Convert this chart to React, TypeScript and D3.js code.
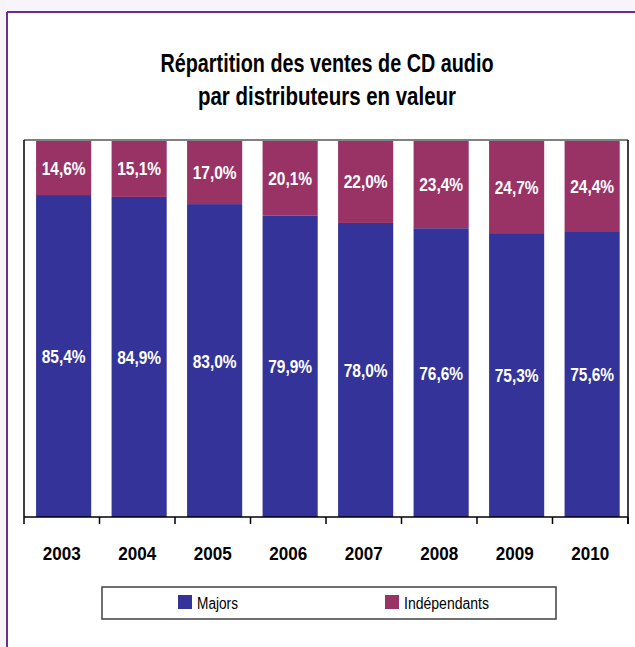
import React from "react";
import * as d3 from "d3";

const years = ["2003", "2004", "2005", "2006", "2007", "2008", "2009", "2010"];
const majors = [85.4, 84.9, 83.0, 79.9, 78.0, 76.6, 75.3, 75.6];
const independants = [14.6, 15.1, 17.0, 20.1, 22.0, 23.4, 24.7, 24.4];
const seriesNames = ["Majors", "Indépendants"];
const seriesColors = ["#333399", "#993366"];
const titleLines = ["Répartition des ventes de CD audio", "par distributeurs en valeur"];

const FONT = "'Liberation Sans', Arial, sans-serif";

export default function App() {
  const W = 635;
  const H = 647;
  const left = 24;
  const right = 628;
  const top = 140;
  const bottom = 517;

  const x = d3.scaleBand<string>().domain(years).range([left, right]);
  const y = d3.scaleLinear().domain([0, 100]).range([bottom, top]);
  const bw = x.bandwidth();
  const barOff = bw * 0.16;
  const barW = bw * 0.73;
  const fmt = (v: number) => v.toFixed(1).replace(".", ",") + "%";

  const ticks = [...years.map((d) => x(d) as number), right];
  const titleWidths = [333, 258];
  const legendWidths = [41, 85];

  return (
    <svg
      width={W}
      height={H}
      style={{ position: "absolute", left: 0, top: 0, background: "#fff" }}
    >
      <rect x={0} y={0} width={W} height={11} fill="#f8f4fb" />
      <rect x={0} y={0} width={6} height={H} fill="#f6f4f7" />
      <line x1={7} y1={12} x2={W} y2={12} stroke="#6b2d90" strokeWidth={2} />
      <line x1={7} y1={12} x2={7} y2={H} stroke="#6b2d90" strokeWidth={2} />

      {titleLines.map((t, i) => (
        <text
          key={i}
          x={327 - titleWidths[i] / 2}
          y={72 + i * 33}
          textLength={titleWidths[i]}
          lengthAdjust="spacingAndGlyphs"
          fontFamily={FONT}
          fontWeight="bold"
          fontSize={25}
          fill="#000"
        >
          {t}
        </text>
      ))}

      {years.map((yr, i) => {
        const bx = (x(yr) as number) + barOff;
        const yMaj = y(majors[i]);
        const yTop = y(majors[i] + independants[i]);
        const cx = bx + barW / 2;
        return (
          <g key={yr}>
            <rect x={bx} y={yMaj} width={barW} height={bottom - yMaj} fill={seriesColors[0]} />
            <rect x={bx} y={yTop} width={barW} height={yMaj - yTop} fill={seriesColors[1]} />
            <text
              x={cx - 22}
              y={(yMaj + bottom) / 2 + 7}
              textLength={44}
              lengthAdjust="spacingAndGlyphs"
              fontFamily={FONT}
              fontWeight="bold"
              fontSize={19}
              fill="#fff"
            >
              {fmt(majors[i])}
            </text>
            <text
              x={cx - 22}
              y={(yTop + yMaj) / 2 + 7}
              textLength={44}
              lengthAdjust="spacingAndGlyphs"
              fontFamily={FONT}
              fontWeight="bold"
              fontSize={19}
              fill="#fff"
            >
              {fmt(independants[i])}
            </text>
            <text
              x={(x(yr) as number) + bw / 2 - 19}
              y={560}
              textLength={38}
              lengthAdjust="spacingAndGlyphs"
              fontFamily={FONT}
              fontWeight="bold"
              fontSize={19}
              fill="#000"
            >
              {yr}
            </text>
          </g>
        );
      })}

      <line x1={left} y1={top} x2={right} y2={top} stroke="#808080" strokeWidth={2} />
      <line x1={left} y1={top} x2={left} y2={bottom} stroke="#000" strokeWidth={1.5} />
      <line x1={right} y1={top} x2={right} y2={bottom + 7} stroke="#000" strokeWidth={1.5} />
      <line x1={left} y1={bottom} x2={right} y2={bottom} stroke="#000" strokeWidth={1.5} />
      {ticks.map((t, i) => (
        <line key={i} x1={t} y1={bottom} x2={t} y2={bottom + 7} stroke="#000" strokeWidth={1.5} />
      ))}

      <rect x={102} y={587} width={454} height={32} fill="#fff" stroke="#404040" strokeWidth={1.5} />
      {seriesNames.map((s, i) => {
        const sx = i === 0 ? 178 : 385;
        return (
          <g key={s}>
            <rect x={sx} y={595} width={14} height={14} fill={seriesColors[i]} />
            <text
              x={sx + 19}
              y={609}
              textLength={legendWidths[i]}
              lengthAdjust="spacingAndGlyphs"
              fontFamily={FONT}
              fontSize={16}
              fill="#000"
            >
              {s}
            </text>
          </g>
        );
      })}
    </svg>
  );
}
